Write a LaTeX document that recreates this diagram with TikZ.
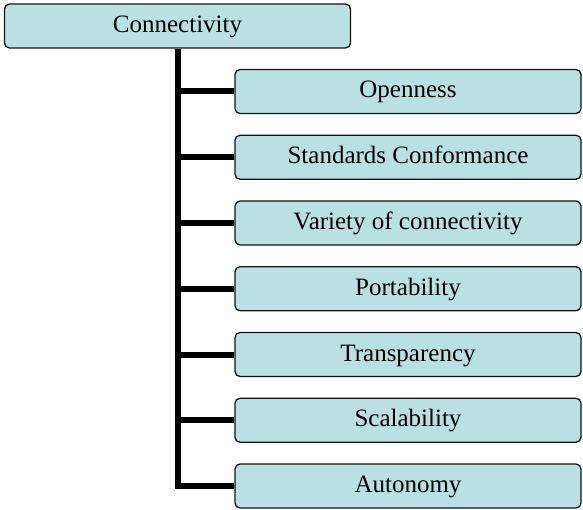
\documentclass[tikz,border=0pt]{standalone}
\usepackage{fontspec}
\setmainfont{Liberation Serif}
\definecolor{boxfill}{RGB}{185,224,226}
\definecolor{boxline}{RGB}{20,20,20}
\begin{document}
\begin{tikzpicture}[x=1bp,y=-1bp,
  itembox/.style={draw=boxline, line width=1.3bp, fill=boxfill, rounded corners=5bp,
    minimum width=346bp, minimum height=44bp, inner sep=0pt,
    text height=19bp, text depth=6bp, font=\fontsize{25bp}{30bp}\selectfont},
  link/.style={line width=6bp, black}]
\useasboundingbox (0,0) rectangle (583,510);
\node[itembox] (root) at (177.5,26) {Connectivity};
\foreach \i in {1,...,7}{
  \coordinate (j\i) at (177.5,{91.5+65.75*(\i-1)});
}
\foreach \i/\t in {1/Openness,2/Standards Conformance,3/Variety of connectivity,4/Portability,5/Transparency,6/Scalability,7/Autonomy}{
  \node[itembox] (c\i) at (408,{91.5+65.75*(\i-1)}) {\t};
}
\draw[link, line join=miter] (root.south -| j1) -- (j7) -- (c7.west);
\foreach \i in {1,...,6}{
  \draw[link] (j\i) -- (c\i.west);
}
\end{tikzpicture}
\end{document}
